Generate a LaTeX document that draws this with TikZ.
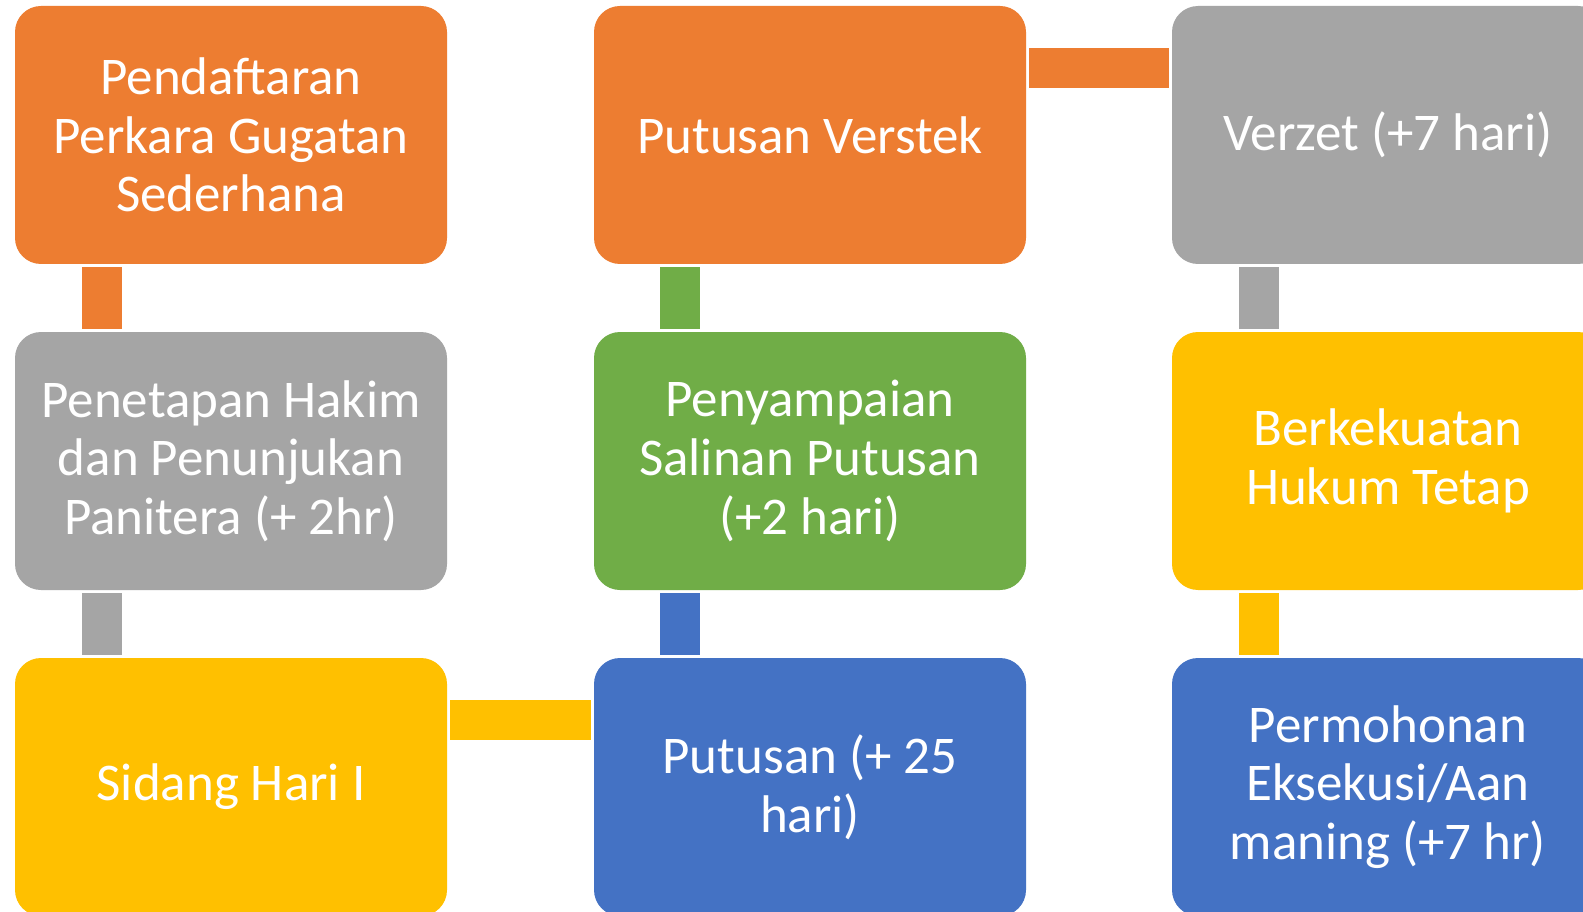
\documentclass[tikz,border=0pt]{standalone}
\usepackage{fontspec}
\setmainfont{Carlito}
\definecolor{cOrange}{HTML}{ED7D31}
\definecolor{cGray}{HTML}{A5A5A5}
\definecolor{cYellow}{HTML}{FFC000}
\definecolor{cBlue}{HTML}{4472C4}
\definecolor{cGreen}{HTML}{70AD47}
\tikzset{
  stepbox/.style={rectangle, rounded corners=26pt, minimum width=432pt, minimum height=258pt,
    inner sep=0pt, align=center, text=white,
    font=\fontsize{53}{58.6}\selectfont},
  link/.style={line width=40pt, line cap=butt, shorten <=3pt, shorten >=3pt},
}
\begin{document}
\begin{tikzpicture}[x=1pt,y=-1pt]
\useasboundingbox (0,0) rectangle (1583,912);
\clip (0,0) rectangle (1583,912);
\fill[white] (0,0) rectangle (1583,912);
% column 1
\node[stepbox, fill=cOrange] (a1) at (231,135) {Pendaftaran\\Perkara Gugatan\\Sederhana};
\node[stepbox, fill=cGray] (a2) at (231,461) {Penetapan Hakim\\dan Penunjukan\\Panitera (+ 2hr)};
\node[stepbox, fill=cYellow] (a3) at (231,787) {Sidang Hari I};
% column 2
\node[stepbox, fill=cOrange] (b1) at (810,135) {Putusan Verstek};
\node[stepbox, fill=cGreen] (b2) at (810,461) {Penyampaian\\Salinan Putusan\\(+2 hari)};
\node[stepbox, fill=cBlue] (b3) at (810,787) {Putusan (+ 25\\hari)};
% column 3
\node[stepbox, fill=cGray] (c1) at (1388,135) {Verzet (+7 hari)};
\node[stepbox, fill=cYellow] (c2) at (1388,461) {Berkekuatan\\Hukum Tetap};
\node[stepbox, fill=cBlue] (c3) at (1388,787) {Permohonan\\Eksekusi/Aan\\maning (+7 hr)};
% connectors
\draw[link, cOrange] ([xshift=87pt]a1.south west) -- ([xshift=87pt]a2.north west);
\draw[link, cGray] ([xshift=87pt]a2.south west) -- ([xshift=87pt]a3.north west);
\draw[link, cYellow] ([yshift=-62pt]a3.north east) -- ([yshift=-62pt]b3.north west);
\draw[link, cBlue] ([xshift=86pt]b3.north west) -- ([xshift=86pt]b2.south west);
\draw[link, cGreen] ([xshift=86pt]b2.north west) -- ([xshift=86pt]b1.south west);
\draw[link, cOrange] ([yshift=-62pt]b1.north east) -- ([yshift=-62pt]c1.north west);
\draw[link, cGray] ([xshift=87pt]c1.south west) -- ([xshift=87pt]c2.north west);
\draw[link, cYellow] ([xshift=87pt]c2.south west) -- ([xshift=87pt]c3.north west);
\end{tikzpicture}
\end{document}
